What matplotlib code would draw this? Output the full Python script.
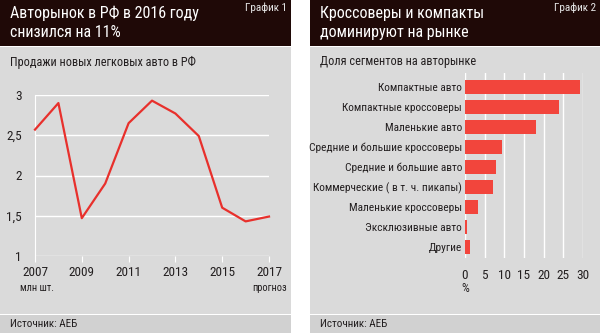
import matplotlib
matplotlib.use("Agg")
import matplotlib.pyplot as plt
from matplotlib import font_manager
from matplotlib.patches import Rectangle

# Sales of new passenger cars, mln units
years = [2007, 2008, 2009, 2010, 2011, 2012, 2013, 2014, 2015, 2016, 2017]
sales = [2.57, 2.90, 1.47, 1.90, 2.65, 2.93, 2.77, 2.49, 1.60, 1.43, 1.49]
year_ticks = [2007, 2009, 2011, 2013, 2015, 2017]
sales_ticks = [1, 1.5, 2, 2.5, 3]
sales_ticklabels = ["1", "1,5", "2", "2,5", "3"]

# Segment shares, %
segments = [
    "Компактные авто",
    "Компактные кроссоверы",
    "Маленькие авто",
    "Средние и большие кроссоверы",
    "Средние и большие авто",
    "Коммерческие ( в т. ч. пикапы)",
    "Маленькие кроссоверы",
    "Эксклюзивные авто",
    "Другие",
]
shares = [29.3, 23.8, 18.1, 9.4, 7.8, 7.2, 3.2, 0.4, 1.3]
share_ticks = [0, 5, 10, 15, 20, 25, 30]

DARK = "#1f0907"
PANEL = "#dadada"
FOOT = "#d1d1d1"
TEXT = "#231f20"
RED_LINE = "#e8302c"
RED_BAR = "#f2453c"

W, H = 600, 333

available = {f.name for f in font_manager.fontManager.ttflist}
FONT = "DejaVu Sans"
for name in ["Liberation Sans Narrow", "Roboto Condensed", "Open Sans Condensed",
             "Noto Sans Display", "Liberation Sans"]:
    if name in available:
        FONT = name
        break
plt.rcParams["font.family"] = [FONT, "DejaVu Sans"]

fig = plt.figure(figsize=(W / 100, H / 100), dpi=100)
fig.patch.set_facecolor("white")

bg = fig.add_axes([0, 0, 1, 1])
bg.set_xlim(0, W)
bg.set_ylim(H, 0)
bg.axis("off")


def panel(x0, x1, title, tag, subtitle):
    bg.add_patch(Rectangle((x0, 0), x1 - x0, 46, color=DARK, lw=0))
    bg.add_patch(Rectangle((x0, 47), x1 - x0, 267, color=PANEL, lw=0))
    bg.add_patch(Rectangle((x0, 315), x1 - x0, 18, color=FOOT, lw=0))
    bg.text(x0 + 10, 23, title, color="white", fontsize=11.5, va="center",
            ha="left", linespacing=1.35)
    bg.text(x1 - 4, 8, tag, color="#e6e6e6", fontsize=8, va="center", ha="right")
    bg.text(x0 + 10, 62, subtitle, color=TEXT, fontsize=8.8, va="center", ha="left")
    bg.text(x0 + 10, 324, "Источник: АЕБ", color=TEXT, fontsize=8, va="center",
            ha="left")


panel(0, 291, "Авторынок в РФ в 2016 году\nснизился на 11%", "График 1",
      "Продажи новых легковых авто в РФ")
panel(310, 600, "Кроссоверы и компакты\nдоминируют на рынке", "График 2",
      "Доля сегментов на авторынке")


def px_axes(x0, x1, y0, y1):
    return fig.add_axes([x0 / W, 1 - y1 / H, (x1 - x0) / W, (y1 - y0) / H])


# --- line chart -------------------------------------------------------
ax1 = px_axes(35, 269, 95, 256)
ax1.set_facecolor("none")
ax1.plot(years, sales, color=RED_LINE, lw=1.6, clip_on=False, zorder=3)
ax1.set_xlim(2007, 2017)
ax1.set_ylim(1, 3)
ax1.set_yticks(sales_ticks)
ax1.set_yticklabels(sales_ticklabels)
ax1.set_xticks(year_ticks)
ax1.set_xticks(years, minor=True)
ax1.grid(axis="y", color="white", lw=1)
for side in ["top", "right", "bottom"]:
    ax1.spines[side].set_visible(False)
ax1.spines["left"].set_color("white")
ax1.tick_params(axis="both", which="both", color="white", labelcolor=TEXT,
                labelsize=9.5)
ax1.tick_params(axis="y", length=0, pad=9.5)
ax1.tick_params(axis="x", which="major", length=4, pad=3)
ax1.tick_params(axis="x", which="minor", length=0)
bg.text(20, 288, "млн шт.", color=TEXT, fontsize=7.5, va="center", ha="left")
bg.text(287, 288, "прогноз", color=TEXT, fontsize=7.5, va="center", ha="right")

# --- bar chart --------------------------------------------------------
ax2 = px_axes(465, 583, 73, 258)
ax2.set_facecolor("none")
pos = list(range(len(segments)))
ax2.barh(pos, shares, height=0.66, color=RED_BAR, zorder=3)
ax2.set_xlim(0, 30)
ax2.set_ylim(len(segments) - 0.45, -0.7)
ax2.set_yticks(pos)
ax2.set_yticklabels(segments)
ax2.set_xticks(share_ticks)
ax2.grid(axis="x", color="white", lw=1, zorder=0)
for side in ["top", "right", "bottom", "left"]:
    ax2.spines[side].set_visible(False)
ax2.tick_params(axis="y", length=0, pad=2, labelsize=8.2, labelcolor=TEXT)
ax2.tick_params(axis="x", length=0, pad=8, labelsize=9.5, labelcolor=TEXT)
bg.text(465, 288, "%", color=TEXT, fontsize=9, va="center", ha="center")

fig.savefig("out.png", dpi=100, facecolor="white")
